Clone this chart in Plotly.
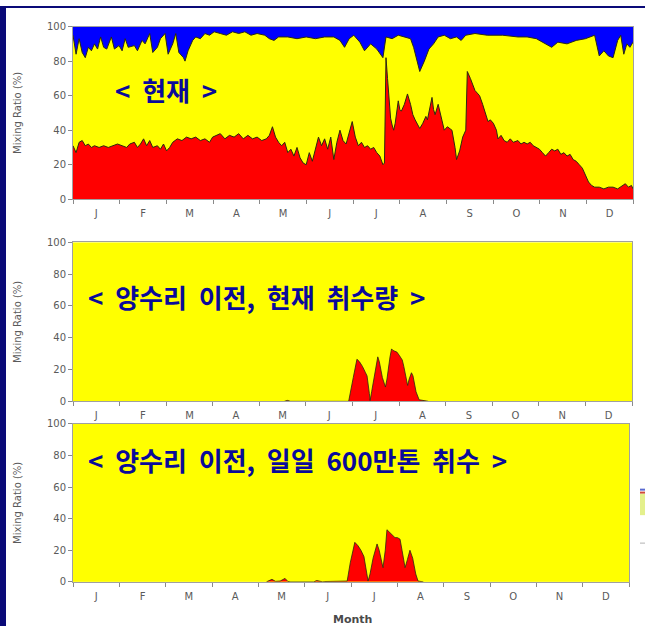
import plotly.graph_objects as go

W, H = 645, 632

# ---- calendar axis (twelve equal month slots over a 365-day year) --------
MONTH_LABELS = ["J", "F", "M", "A", "M", "J", "J", "A", "S", "O", "N", "D"]
MONTH_LEN = 365 / 12
MONTH_EDGES = [i * MONTH_LEN for i in range(13)]
MONTH_MIDS = [(i + 0.5) * MONTH_LEN for i in range(12)]
Y_TICKS = [0, 20, 40, 60, 80, 100]

# ---- panel 1: present condition ----------------------------------------
# red share (bottom layer), day of year -> %
P1_RED_DAY = [0, 2, 4, 6, 8, 10, 12, 14, 17, 20, 23, 26, 29, 32, 35, 37, 40, 42, 44, 46,
              48, 50, 52, 55, 57, 59, 61, 63, 65, 68, 71, 74, 77, 80, 83, 86, 89, 91, 94, 96,
              99, 102, 105, 108, 111, 114, 117, 120, 123, 126, 128, 130, 132, 134, 136, 138, 140, 142, 144, 146,
              148, 150, 152, 154, 156, 158, 160, 162, 164, 166, 168, 170, 172, 174, 176, 178, 180, 182, 184, 186,
              188, 190, 192, 194, 196, 198, 200, 202, 203, 204, 205, 206, 207, 208, 209, 210, 212, 213, 214, 216,
              218, 220, 221.5, 223, 225, 226, 228, 230, 231, 233, 234, 235, 236, 238, 240, 242, 244, 247, 249, 250,
              252, 254, 256, 257, 259, 261, 262, 264, 265, 267, 269, 270.5, 272, 274, 276, 277, 279, 281, 283, 285,
              287, 290, 292, 294, 296, 298, 300, 302, 304, 306, 308, 310, 312, 314, 316, 318, 320, 322, 324, 326,
              328, 330, 332, 334, 336, 338, 340, 343, 346, 349, 352, 355, 358, 360, 362, 364, 365]
P1_RED_VAL = [31, 27, 33, 34, 31, 32, 30, 31, 30, 31, 30, 31, 32, 31, 30, 32, 33, 30, 32, 35,
              31, 34, 30, 31, 29, 32, 28, 30, 33, 35, 34, 36, 35, 36, 34, 35, 33, 36, 37, 38,
              35, 37, 36, 38, 35, 37, 35, 36, 34, 35, 37, 42, 36, 33, 31, 33, 27, 29, 25, 30,
              24, 21, 20, 27, 22, 30, 36, 31, 35, 29, 36, 23, 33, 40, 34, 32, 38, 45, 36, 31,
              33, 30, 31, 29, 30, 27, 25, 20, 21, 82, 70, 55, 47, 43, 40, 44, 57, 52, 51, 55,
              61, 55, 49, 46, 42, 41, 44, 48, 46, 55, 59, 52, 49, 55, 47, 40, 42, 40, 30, 23,
              28, 36, 40, 74, 70, 65, 63, 61, 60, 55, 50, 45, 46, 44, 40, 35, 37, 34, 33, 35,
              33, 34, 32, 33, 32, 33, 31, 30, 29, 27, 25, 27, 29, 28, 29, 26, 27, 25, 26, 23,
              22, 20, 18, 14, 10, 8, 7, 7, 6, 7, 7, 6, 8, 9, 7, 8, 6]

# red + yellow share (upper edge of the yellow layer); remainder is blue
P1_TOP_DAY = [0, 2, 4, 6, 8, 10, 12, 14, 16, 18, 20, 22, 25, 27, 30, 32, 34, 36, 40, 42,
              45, 47, 50, 52, 55, 57, 60, 62, 65, 67, 69, 72, 73, 75, 78, 80, 83, 86, 89, 92,
              96, 100, 104, 108, 112, 116, 120, 125, 128, 131, 134, 140, 146, 152, 158, 164, 170, 174, 177, 180,
              183, 187, 190, 194, 198, 202, 204, 208, 212, 216, 220, 222, 224, 226, 229, 232, 235, 238, 242, 246,
              250, 253, 256, 262, 270, 280, 290, 296, 302, 308, 312, 316, 322, 328, 334, 340, 343, 346, 349, 352,
              355, 357, 359, 361, 363, 365]
P1_TOP_VAL = [95, 84, 93, 85, 82, 88, 86, 90, 87, 94, 88, 87, 94, 87, 89, 86, 93, 88, 89, 86,
              92, 90, 96, 85, 88, 93, 96, 84, 90, 96, 85, 82, 80, 86, 92, 94, 93, 96, 95, 97,
              96, 95, 97, 96, 97, 95, 96, 95, 93, 92, 94, 94, 93, 94, 93, 94, 94, 92, 88, 93,
              95, 91, 86, 90, 87, 82, 94, 93, 95, 94, 93, 88, 80, 74, 80, 87, 90, 94, 95, 93,
              94, 92, 95, 96, 95, 95, 94, 94, 93, 90, 88, 91, 90, 92, 93, 95, 83, 86, 83, 82,
              92, 95, 84, 90, 88, 91]

# ---- panel 2: before Yangsu-ri, present withdrawal ----------------------
P2_RED_DAY = [138, 140, 142, 178, 180, 183, 185.4, 187, 189, 191, 192, 193.5, 194, 195, 197, 199, 200, 202, 204, 205,
              207, 208, 209, 211.5, 213, 215, 216, 217.5, 218.5, 219.5, 221, 222, 224, 226, 229, 232]
P2_RED_VAL = [0, 0.6, 0, 0, 0, 15, 26.5, 25, 22, 18, 16, 5, 0.5, 6, 18, 28, 25, 15, 9, 14,
              28, 33, 32, 31, 29, 26, 22, 14, 10, 14, 18, 16, 6, 1, 0.4, 0]

# ---- panel 3: before Yangsu-ri, 6 million t/day withdrawal ---------------
P3_RED_DAY = [127, 128, 130.6, 133, 136, 139.2, 141, 143, 158, 160, 162, 164, 165, 170, 178, 180, 182, 185, 187, 189, 191,
              192.5, 193.7, 195, 197, 199.6, 201, 203.5, 205, 206.1, 208, 210, 211.4, 213, 214.7, 216, 218, 219.5, 221.2, 223, 225,
              226.5, 230]
P3_RED_VAL = [0, 0.5, 1.6, 0.3, 0.5, 2.2, 0.3, 0, 0, 0.8, 0.2, 0, 0.2, 0.3, 0.2, 0.5, 12, 25, 23, 20, 16,
              8, 0.5, 5, 15, 24, 20, 9, 20, 33, 31, 29, 28, 28, 27, 20, 9, 14, 20, 15, 5,
              0.5, 0]

SP = "\u00a0\u00a0"
PANEL_TEXT = [
    SP.join(["<", "현재", ">"]),
    SP.join(["<", "양수리", "이전,", "현재", "취수량", ">"]),
    SP.join(["<", "양수리", "이전,", "일일", "600만톤", "취수", ">"]),
]

RED, YELLOW, BLUE = "#ff0000", "#ffff00", "#0000ff"
EDGE = "#2a2a10"
GRAY_TXT = "#5a5a5a"


def px_x(x):
    return x / W


def px_y(y):
    return 1 - y / H


# pixel boxes of the three plot areas: (left, top, right, bottom)
BOXES = [(73, 21, 633, 197), (73, 241, 632, 403), (73, 426, 629, 587)]

fig = go.Figure()

fig.add_trace(go.Scatter(x=P1_TOP_DAY, y=P1_TOP_VAL, xaxis="x", yaxis="y", mode="lines",
                         fill="tozeroy", fillcolor=YELLOW, line=dict(color=EDGE, width=1)))
fig.add_trace(go.Scatter(x=P1_RED_DAY, y=P1_RED_VAL, xaxis="x", yaxis="y", mode="lines",
                         fill="tozeroy", fillcolor=RED, line=dict(color=EDGE, width=1)))
fig.add_trace(go.Scatter(x=P2_RED_DAY, y=P2_RED_VAL, xaxis="x2", yaxis="y2", mode="lines",
                         fill="tozeroy", fillcolor=RED, line=dict(color=EDGE, width=0.8)))
fig.add_trace(go.Scatter(x=P3_RED_DAY, y=P3_RED_VAL, xaxis="x3", yaxis="y3", mode="lines",
                         fill="tozeroy", fillcolor=RED, line=dict(color=EDGE, width=0.8)))

layout = dict(
    width=W, height=H, autosize=False,
    margin=dict(l=0, r=0, t=0, b=0),
    paper_bgcolor="white", plot_bgcolor=YELLOW,
    showlegend=False,
    annotations=[], shapes=[],
)

for i, (l, t, r, b) in enumerate(BOXES):
    sx = "" if i == 0 else str(i + 1)
    layout["xaxis" + sx] = dict(
        domain=[px_x(l), px_x(r)], anchor="y" + sx, range=[0, 365],
        tickmode="array", tickvals=MONTH_MIDS, ticktext=MONTH_LABELS,
        ticks="outside", ticklen=5, tickcolor="rgba(0,0,0,0)",
        tickfont=dict(family="DejaVu Sans", size=10, color=GRAY_TXT),
        showline=True, linecolor="#a0a0a0", linewidth=1, mirror=True,
        showgrid=False, zeroline=False, fixedrange=True,
        minor=dict(tickmode="array", tickvals=MONTH_EDGES, ticks="outside",
                   ticklen=4, tickcolor="#8a8a8a", tickwidth=1, showgrid=False),
    )
    layout["yaxis" + sx] = dict(
        domain=[px_y(b), px_y(t)], anchor="x" + sx, range=[0, 100],
        tickmode="array", tickvals=Y_TICKS,
        ticks="outside", ticklen=4, tickcolor="#8a8a8a",
        tickfont=dict(family="DejaVu Sans", size=10, color=GRAY_TXT),
        showline=True, linecolor="#a0a0a0", linewidth=1, mirror=True,
        showgrid=False, zeroline=False, fixedrange=True,
    )
    layout["annotations"].append(dict(
        text="Mixing Ratio (%)", textangle=-90, xref="paper", yref="paper",
        x=px_x(18), y=px_y((t + b) / 2), xanchor="center", yanchor="middle",
        showarrow=False, font=dict(family="DejaVu Sans", size=10, color=GRAY_TXT)))

# blue remainder layer of the first panel
layout["shapes"].append(dict(type="rect", xref="x domain", yref="y domain",
                             x0=0, x1=1, y0=0, y1=1, fillcolor=BLUE,
                             line=dict(width=0), layer="below"))

# panel captions
caption_pos = [(113, 85), (86, 296), (86, 462)]
for txt, (cx, cy) in zip(PANEL_TEXT, caption_pos):
    layout["annotations"].append(dict(
        text="<b>" + txt + "</b>", xref="paper", yref="paper",
        x=px_x(cx), y=px_y(cy), xanchor="left", yanchor="middle", showarrow=False,
        font=dict(family="Noto Sans CJK KR", size=26, color="#0a0a9a")))

layout["annotations"].append(dict(
    text="<b>Month</b>", xref="paper", yref="paper", x=px_x(352), y=px_y(625),
    xanchor="center", yanchor="middle", showarrow=False,
    font=dict(family="DejaVu Sans", size=11, color="#4a4a4a")))

# slide frame bands and the clipped neighbouring picture at the right edge
layout["shapes"] += [
    dict(type="rect", xref="paper", yref="paper", x0=0, x1=px_x(6), y0=0, y1=1,
         fillcolor="#0a0a78", line=dict(width=0)),
    dict(type="rect", xref="paper", yref="paper", x0=0, x1=1, y0=px_y(2), y1=1,
         fillcolor="#0a0a78", line=dict(width=0)),
    dict(type="rect", xref="paper", yref="paper", x0=px_x(640), x1=1, y0=px_y(519), y1=px_y(497),
         fillcolor="#e4f08c", line=dict(width=0)),
    dict(type="rect", xref="paper", yref="paper", x0=px_x(640), x1=1, y0=px_y(494), y1=px_y(492),
         fillcolor="#5a6ad0", line=dict(width=0)),
    dict(type="rect", xref="paper", yref="paper", x0=px_x(640), x1=1, y0=px_y(497), y1=px_y(495),
         fillcolor="#d04a3a", line=dict(width=0)),
    dict(type="rect", xref="paper", yref="paper", x0=px_x(640), x1=1, y0=px_y(548), y1=px_y(547),
         fillcolor="#b0b0b0", line=dict(width=0)),
]

fig.update_layout(**layout)
fig.write_html("out.html")
